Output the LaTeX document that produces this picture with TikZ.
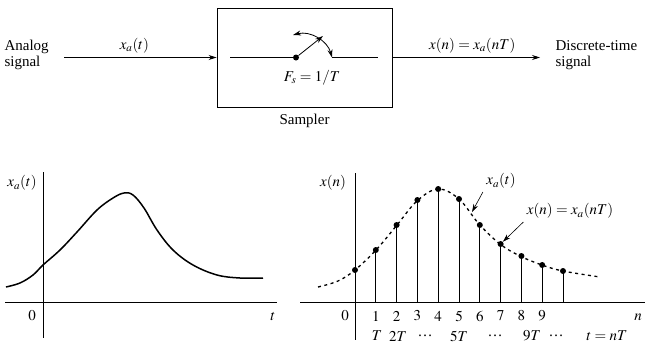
\documentclass[tikz,border=0pt]{standalone}
\usepackage{mathptmx}
\usepackage[no-math]{fontspec}
\setmainfont{Liberation Serif}
\usetikzlibrary{positioning,arrows.meta}

\begin{document}
\begin{tikzpicture}[x=1pt,y=-1pt,>={Stealth[length=8pt,width=5pt]},font=\fontsize{15}{16.5}\selectfont,
    axis/.style={line width=0.8pt},
    signal/.style={line width=1.5pt},
    stem/.style={line width=0.7pt},
    sample/.style={circle,fill,inner sep=0pt,minimum size=6pt}]
    \useasboundingbox (0,0) rectangle (647,346);

    % sampler block
    \node (sampler) [draw, rectangle, line width=0.9pt, minimum width=175pt, minimum height=99pt] at (304.5,57.5) {};
    \node (samplerlabel) [below=3pt of sampler] {Sampler};
    \node (analog) [align=left, anchor=west] at (1,55) {Analog\\signal};
    \node (discrete) [align=left, anchor=west] at (552,55) {Discrete-time\\signal};

    \draw[->, line width=0.8pt, shorten <=12pt] (analog.east |- sampler.west) -- (sampler.west) node[midway, above=1pt] {$x_a(t)$};
    \draw[->, line width=0.8pt, shorten >=12pt] (sampler.east) -- (discrete.west |- sampler.east) node[midway, above=1pt] {$x(n) = x_a(nT)$};

    % switch
    \coordinate (swin) at (230,57.5);
    \coordinate (swout) at (378,57.5);
    \node (pivot) [sample] at (296,57.5) {};
    \coordinate (contact) at (332,57.5);
    \coordinate (armtip) at (323,36);
    \coordinate (arcl) at (293,35);
    \draw[line width=0.8pt] (swin) -- (pivot);
    \draw[->, line width=0.8pt] (pivot) -- (armtip);
    \draw[<->, line width=0.8pt] (arcl) to[bend left=45] (contact);
    \draw[line width=0.8pt] (contact) -- (swout);
    \node (fs) at (312,78) {$F_s = 1/T$};

    % analog signal plot
    \coordinate (origa) at (43,302);
    \draw[axis] (5,302) -- (277,302);
    \draw[axis] (43,172) -- (43,338);
    \node (xalabel) at (22,183) {$x_a(t)$};
    \node (zeroa) at (32,316) {$0$};
    \node (taxis) at (273,317) {$t$};
    \draw[signal] plot[smooth, tension=0.6] coordinates {(6,287) (20,283) (33,275) (43,265) (60,250) (77,232) (97,210) (113,198) (124,193) (133,195) (144,208) (157,230) (173,250) (193,265) (217,275) (240,278) (263,278)};

    % sampled signal plot
    \draw[axis] (300,302) -- (645,302);
    \draw[axis] (355,173) -- (355,340);
    \node (xnlabel) at (333,183) {$x(n)$};
    \draw[signal, line width=1.3pt, dash pattern=on 3pt off 3.5pt] plot[smooth, tension=0.6] coordinates {(318,287) (338,281) (355,270) (376,250) (397,225) (417,201) (438,189) (459,199) (479,224) (500,244) (520,256) (542,265) (563,271) (600,277)};
    \foreach \n/\h in {0/270,1/250,2/225,3/200,4/189,5/199,6/225,7/244,8/256,9/265,10/271} {
        \draw[stem] (355+20.8*\n,302) -- (355+20.8*\n,\h);
        \node (s\n) [sample] at (355+20.8*\n,\h) {};
    }
    \node (zerob) at (345,316) {$0$};
    \foreach \n in {1,...,9} {
        \node (k\n) at (355+20.8*\n,316) {$\n$};
    }
    \node (naxis) at (638,317) {$n$};
    \node (t1) at (377,336) {$T$};
    \node (t2) at (398,336) {$2T$};
    \node (d1) at (425,336) {…};
    \node (t5) at (459,336) {$5T$};
    \node (d2) at (495,336) {…};
    \node (t9) at (532,336) {$9T$};
    \node (d3) at (556,336) {…};
    \node (tn) at (607,336) {$t = nT$};

    % annotations
    \node (curvelabel) at (501,181) {$x_a(t)$};
    \coordinate (curvept) at (472,212);
    \draw[->, line width=0.6pt] (curvelabel.south west) -- (curvept);
    \node (samplelabel) at (570,211) {$x(n) = x_a(nT)$};
    \draw[->, line width=0.6pt] (samplelabel.south west) -- (s7);
\end{tikzpicture}
\end{document}
